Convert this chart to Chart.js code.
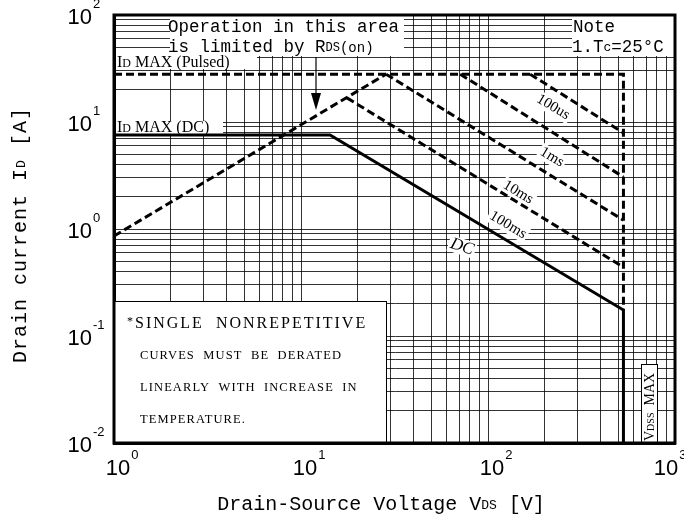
<!DOCTYPE html>
<html>
<head>
<meta charset="utf-8">
<script src="https://cdn.jsdelivr.net/npm/chart.js@4.4.1/dist/chart.umd.min.js"></script>
<style>
  html, body { margin: 0; padding: 0; background: #fff; }
  canvas { display: block; }
</style>
</head>
<body>
<canvas id="soaChart" width="684" height="519"></canvas>
<script>
// decades shown on each axis (tick labels are 10^n)
const xDecades = [0, 1, 2, 3];
const yDecades = [-2, -1, 0, 1, 2];

// SOA boundaries (V in volts, I in amps)
const pulsedV = [1, 530, 530];
const pulsedI = [28, 28, 0.175];
const rdsOnV = [1, 28.5];
const rdsOnI = [0.86, 28];
const us100V = [168, 530];
const us100I = [28, 7.9];
const ms1V = [71, 530];
const ms1I = [28, 3.06];
const ms10V = [28.5, 530];
const ms10I = [28, 1.21];
const ms100V = [17.6, 530];
const ms100I = [16.8, 0.44];
const dcV = [1, 14.3, 530, 530];
const dcI = [7.56, 7.56, 0.175, 0.01];

// curve captions: text, anchor voltage, anchor current, angle (deg)
const curveLabels = [
  ['100us', 223, 13.8, 31],
  ['1ms', 220, 4.7, 31],
  ['10ms', 145, 2.2, 31],
  ['100ms', 128, 1.09, 31],
  ['DC', 72.6, 0.68, 18]
];

function pts(vs, is) {
  return vs.map((v, i) => ({ x: v, y: is[i] }));
}

function gridValues(decades) {
  let out = [];
  for (let k = 0; k < decades.length - 1; k++) {
    for (let m = 1; m < 10; m++) out.push(m * Math.pow(10, decades[k]));
  }
  out.push(Math.pow(10, decades[decades.length - 1]));
  return out;
}

const mono = '"Liberation Mono", "DejaVu Sans Mono", monospace';
const serif = '"Liberation Serif", "DejaVu Serif", serif';
const sans = '"Liberation Sans", Arial, sans-serif';

// draws a list of [text, fontSize, dy] pieces one after another
function drawRuns(ctx, runs, x, y, family) {
  let cx = x;
  runs.forEach(r => {
    ctx.font = r[1] + 'px ' + family;
    ctx.fillText(r[0], cx, y + (r[2] || 0));
    cx += ctx.measureText(r[0]).width;
  });
}

function whiteBox(ctx, x1, y1, x2, y2) {
  ctx.fillStyle = '#fff';
  ctx.fillRect(x1, y1, x2 - x1, y2 - y1);
}

const soaDecor = {
  id: 'soaDecor',
  beforeDatasetsDraw(chart) {
    const ctx = chart.ctx;
    const xs = chart.scales.x, ys = chart.scales.y;
    ctx.save();
    ctx.fillStyle = '#000';
    ctx.textBaseline = 'middle';

    // top-left note
    whiteBox(ctx, 170, 16, 404, 56);
    ctx.fillStyle = '#000';
    drawRuns(ctx, [['Operation in this area', 17.5]], 168, 27, mono);
    drawRuns(ctx, [['is limited by R', 17.5], ['DS', 12, 1], ['(on)', 14, 1]], 168, 47, mono);

    // top-right note
    whiteBox(ctx, 572, 16, 674, 56);
    ctx.fillStyle = '#000';
    drawRuns(ctx, [['Note', 17.5]], 573, 27, mono);
    drawRuns(ctx, [['1.T', 17.5], ['c', 13, 1], ['=25°C', 17.5]], 572, 47, mono);

    // limit captions
    whiteBox(ctx, 116, 56, 257, 69);
    whiteBox(ctx, 116, 121, 223, 134);
    ctx.fillStyle = '#000';
    drawRuns(ctx, [['I', 16], ['D', 12, 1], [' MAX (Pulsed)', 16]], 117, 63, serif);
    drawRuns(ctx, [['I', 16], ['D', 12, 1], [' MAX (DC)', 16]], 117, 128, serif);

    // derating note box
    whiteBox(ctx, 114, 301, 387, 443);
    ctx.strokeStyle = '#000';
    ctx.lineWidth = 1;
    ctx.strokeRect(114.5, 301.5, 272, 142);
    ctx.fillStyle = '#000';
    ctx.letterSpacing = '2px';
    drawRuns(ctx, [['*', 12, -2], ['SINGLE  NONREPETITIVE', 16]], 127, 324, serif);
    ctx.letterSpacing = '1.1px';
    drawRuns(ctx, [['CURVES  MUST  BE  DERATED', 12.5]], 140, 356, serif);
    drawRuns(ctx, [['LINEARLY  WITH  INCREASE  IN', 12.5]], 140, 388, serif);
    drawRuns(ctx, [['TEMPERATURE.', 12.5]], 140, 420, serif);
    ctx.letterSpacing = '0px';

    // VDSS MAX tag
    whiteBox(ctx, 641, 364, 657, 443);
    ctx.strokeRect(641.5, 364.5, 16, 80);
    ctx.save();
    ctx.translate(654, 441);
    ctx.rotate(-Math.PI / 2);
    ctx.fillStyle = '#000';
    ctx.textBaseline = 'alphabetic';
    drawRuns(ctx, [['V', 14], ['DSS', 10], ['  MAX', 14]], 0, 0, serif);
    ctx.restore();

    // curve captions
    curveLabels.forEach(l => {
      const px = xs.getPixelForValue(l[1]);
      const py = ys.getPixelForValue(l[2]);
      ctx.save();
      ctx.translate(px, py);
      ctx.rotate(l[3] * Math.PI / 180);
      ctx.font = (l[0] === 'DC' ? 'italic 17px ' : '15px ') + serif;
      const w = ctx.measureText(l[0]).width;
      ctx.fillStyle = '#fff';
      ctx.fillRect(-w / 2 - 2, -8, w + 4, 16);
      ctx.fillStyle = '#000';
      ctx.textAlign = 'center';
      ctx.fillText(l[0], 0, 0);
      ctx.restore();
    });
    ctx.restore();
  },
  afterDatasetsDraw(chart) {
    const ctx = chart.ctx;
    const a = chart.chartArea;
    ctx.save();
    // arrow pointing at the RDS(on) line
    ctx.strokeStyle = '#000';
    ctx.fillStyle = '#000';
    ctx.lineWidth = 1.2;
    ctx.beginPath();
    ctx.moveTo(316, 57);
    ctx.lineTo(316, 95);
    ctx.stroke();
    ctx.beginPath();
    ctx.moveTo(311, 93);
    ctx.lineTo(321, 93);
    ctx.lineTo(316, 110);
    ctx.closePath();
    ctx.fill();
    // frame
    ctx.lineWidth = 3;
    ctx.strokeRect(a.left, a.top, a.right - a.left, a.bottom - a.top);
    ctx.restore();
  },
  afterDraw(chart) {
    const ctx = chart.ctx;
    const a = chart.chartArea;
    const xs = chart.scales.x, ys = chart.scales.y;
    ctx.save();
    ctx.fillStyle = '#000';
    ctx.textBaseline = 'middle';
    xDecades.forEach(d => {
      const px = Math.min(xs.getPixelForValue(Math.pow(10, d)) + 4, a.right - 9);
      ctx.font = '22px ' + sans;
      ctx.textAlign = 'center';
      ctx.fillText('10', px, 469);
      const w = ctx.measureText('10').width;
      ctx.font = '13px ' + sans;
      ctx.textAlign = 'left';
      ctx.fillText(String(d), px + w / 2 + 1, 455);
    });
    yDecades.forEach(d => {
      const py = ys.getPixelForValue(Math.pow(10, d));
      ctx.font = '22px ' + sans;
      ctx.textAlign = 'right';
      ctx.fillText('10', 92, py + 3);
      ctx.font = '13px ' + sans;
      ctx.textAlign = 'left';
      ctx.fillText(String(d), 93, py - 11);
    });

    // axis titles
    ctx.textAlign = 'left';
    ctx.fillStyle = '#000';
    const xRuns = [['Drain-Source Voltage V', 20], ['DS', 13, 1], [' [V]', 20]];
    let tw = 0;
    xRuns.forEach(r => { ctx.font = r[1] + 'px ' + mono; tw += ctx.measureText(r[0]).width; });
    drawRuns(ctx, xRuns, 381 - tw / 2, 505, mono);

    const yRuns = [['Drain current I', 20], ['D', 13, 1], [' [A]', 20]];
    ctx.letterSpacing = '1px';
    tw = 0;
    yRuns.forEach(r => { ctx.font = r[1] + 'px ' + mono; tw += ctx.measureText(r[0]).width; });
    ctx.translate(21, 235);
    ctx.rotate(-Math.PI / 2);
    drawRuns(ctx, yRuns, -tw / 2, 0, mono);
    ctx.restore();
  }
};

function curve(vs, is, dashed) {
  return {
    data: pts(vs, is),
    showLine: true,
    borderColor: '#000',
    borderWidth: 3,
    borderDash: dashed ? [8, 4] : [],
    borderCapStyle: 'butt',
    borderJoinStyle: 'miter',
    pointRadius: 0,
    fill: false,
    tension: 0
  };
}

const gridStyle = { color: 'rgba(0,0,0,0.8)', lineWidth: 1, drawTicks: false };

new Chart(document.getElementById('soaChart'), {
  type: 'scatter',
  data: {
    datasets: [
      curve(pulsedV, pulsedI, true),
      curve(rdsOnV, rdsOnI, true),
      curve(us100V, us100I, true),
      curve(ms1V, ms1I, true),
      curve(ms10V, ms10I, true),
      curve(ms100V, ms100I, true),
      curve(dcV, dcI, false)
    ]
  },
  options: {
    responsive: false,
    devicePixelRatio: 1,
    animation: false,
    layout: { padding: { left: 114, top: 15, right: 9, bottom: 76 } },
    plugins: { legend: { display: false }, tooltip: { enabled: false } },
    scales: {
      x: {
        type: 'logarithmic',
        min: 1,
        max: 1000,
        ticks: { display: false },
        grid: gridStyle,
        border: { display: true, color: '#000', width: 3 },
        afterBuildTicks: s => { s.ticks = gridValues(xDecades).map(v => ({ value: v })); }
      },
      y: {
        type: 'logarithmic',
        min: 0.01,
        max: 100,
        ticks: { display: false },
        grid: gridStyle,
        border: { display: true, color: '#000', width: 3 },
        afterBuildTicks: s => { s.ticks = gridValues(yDecades).map(v => ({ value: v })); }
      }
    }
  },
  plugins: [soaDecor]
});
</script>
</body>
</html>
